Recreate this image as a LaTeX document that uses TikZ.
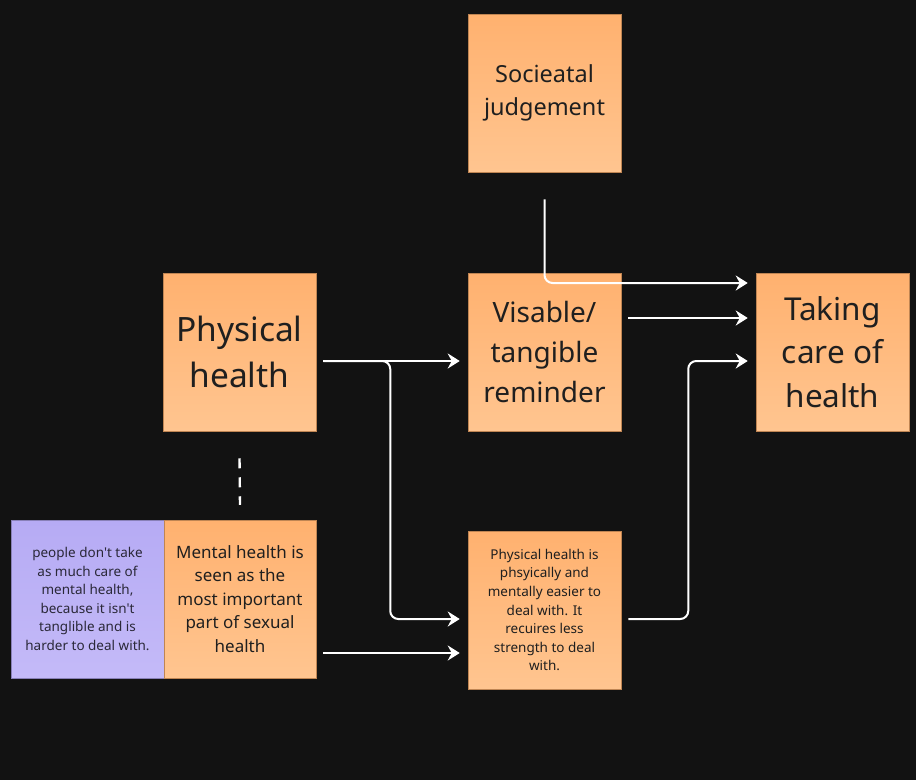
\documentclass[tikz,border=0pt]{standalone}
\usepackage{fontspec}
\setmainfont{Noto Sans}[Ligatures=TeXOff]
\usetikzlibrary{arrows.meta,calc}
\definecolor{bg}{HTML}{121212}
\definecolor{otop}{HTML}{FFB16F}
\definecolor{obot}{HTML}{FFC590}
\definecolor{ptop}{HTML}{B6ABF4}
\definecolor{pbot}{HTML}{C4BAF8}
\definecolor{txt}{HTML}{1F1F1F}
\definecolor{ptxt}{HTML}{2A2838}
\tikzset{
  card/.style={rectangle, inner sep=0pt, minimum width=153pt, minimum height=158pt,
    top color=otop, bottom color=obot, draw=otop!75!black, line width=0.5pt,
    align=center, text=txt},
  pcard/.style={card, top color=ptop, bottom color=pbot, draw=ptop!75!black, text=ptxt},
  conn/.style={draw=white, line width=2pt, rounded corners=8pt,
    -{Stealth[length=12pt,width=15pt,inset=4pt]}},
  dashline/.style={draw=white, line width=2.4pt, dash pattern=on 10pt off 9pt}
}
\begin{document}
\begin{tikzpicture}[x=1pt,y=-1pt]
\fill[bg] (0,0) rectangle (916,780);
\useasboundingbox (0,0) rectangle (916,780);

\node[card, font=\fontsize{23.5}{33}\selectfont] (soc) at (544.5,93) {Socieatal\\judgement};
\node[card, font=\fontsize{33.5}{46}\selectfont] (phys) at (239.5,352) {Physical\\health};
\node[card, font=\fontsize{28}{40}\selectfont] (vis) at (544.5,352) {Visable/\\tangible\\reminder};
\node[card, font=\fontsize{31.5}{43.5}\selectfont] (take) at (832.5,352) {Taking\\care of\\health};
\node[pcard, font=\fontsize{13.5}{18.6}\selectfont] (purp) at (87.5,599) {people don't take\\as much care of\\mental health,\\because it isn't\\tanglible and is\\harder to deal with.};
\node[card, minimum width=152pt, font=\fontsize{17}{23.5}\selectfont] (ment) at (240,599) {Mental health is\\seen as the\\most important\\part of sexual\\health};
\node[card, font=\fontsize{13.5}{18.6}\selectfont] (easy) at (544.5,610) {Physical health is\\phsyically and\\mentally easier to\\deal with. It\\recuires less\\strength to deal\\with.};

\draw[conn] ($(soc.south)+(0,27)$) |- ($(take.west)+(-8,-69)$);
\draw[conn] ($(vis.east)+(7,-34)$) -- ($(take.west)+(-8,-34)$);
\draw[conn] ($(phys.east)+(7,9)$) -- ($(vis.west)+(-8,9)$);
\draw[conn] ($(phys.east)+(7,9)$) -- ++(67,0) |- ($(easy.west)+(-8,9)$);
\draw[conn] ($(ment.east)+(7,54)$) -- ($(easy.west)+(-8,43)$);
\draw[conn] ($(easy.east)+(7,9)$) -- ++(60,0) |- ($(take.west)+(-8,9)$);
\draw[dashline] ($(phys.south)+(0,27)$) -- ($(ment.north)+(0,-15)$);
\end{tikzpicture}
\end{document}
